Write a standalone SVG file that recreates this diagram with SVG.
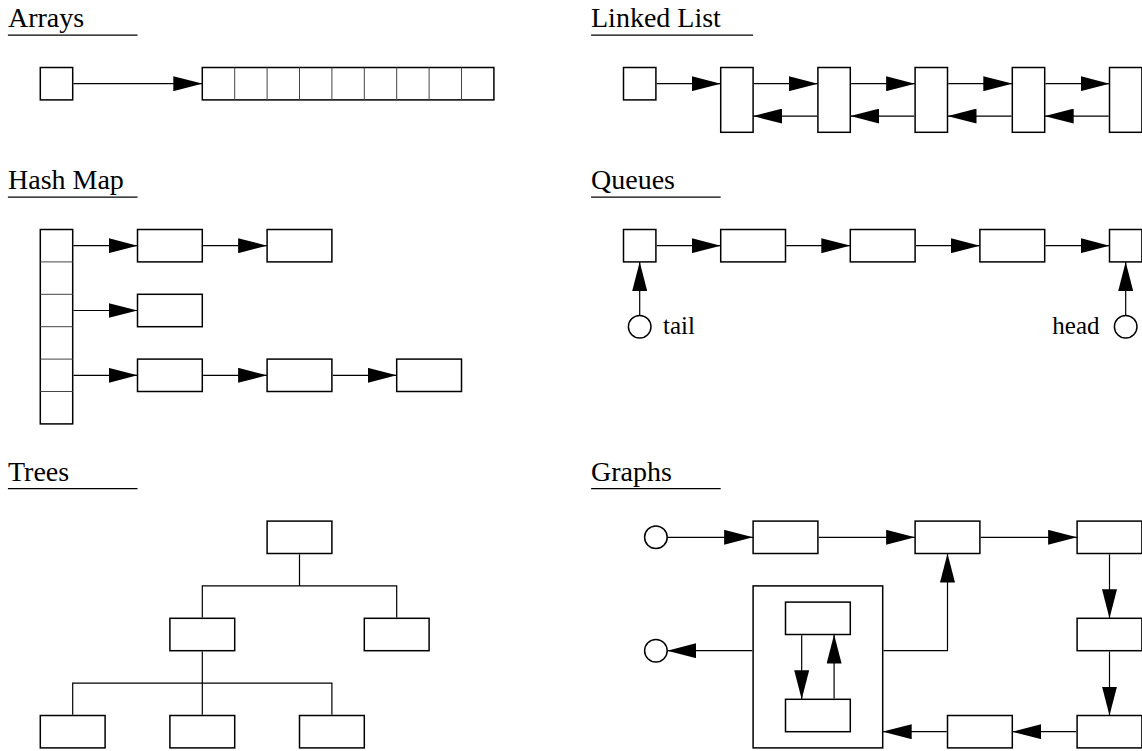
<svg xmlns="http://www.w3.org/2000/svg" width="1142" height="751" viewBox="0 0 1142 751">
<style>
.b{fill:#fff;stroke:#000;stroke-width:1.5}
.f{fill:none;stroke:#000;stroke-width:1.5}
.d{stroke:#444;stroke-width:1}
.c{fill:none;stroke:#000;stroke-width:1.2}
.a{marker-end:url(#ah)}
.t{font-family:"Liberation Serif","Times New Roman",serif;font-size:28px;fill:#000}
.l{font-family:"Liberation Serif","Times New Roman",serif;font-size:25px;fill:#000}
.u{stroke:#000;stroke-width:1.3}
.o{fill:#fff;stroke:#000;stroke-width:1.5}
</style>
<defs>
<marker id="ah" markerUnits="userSpaceOnUse" markerWidth="29" markerHeight="15" refX="29" refY="7.5" orient="auto" viewBox="0 0 29 15">
<path d="M0,0 L29,7.5 L0,15 z" fill="#000"/>
</marker>
</defs>

<g id="titles">
<text class="t" x="8" y="27">Arrays</text>
<line class="u" x1="7.9" y1="35.1" x2="137.5" y2="35.1"/>
<text class="t" x="591" y="27">Linked List</text>
<line class="u" x1="591.1" y1="35.1" x2="753.1" y2="35.1"/>
<text class="t" x="8" y="189">Hash Map</text>
<line class="u" x1="7.9" y1="197.1" x2="137.5" y2="197.1"/>
<text class="t" x="591" y="189">Queues</text>
<line class="u" x1="591.1" y1="197.1" x2="720.7" y2="197.1"/>
<text class="t" x="8" y="480.7">Trees</text>
<line class="u" x1="7.9" y1="488.7" x2="137.5" y2="488.7"/>
<text class="t" x="591" y="480.7">Graphs</text>
<line class="u" x1="591.1" y1="488.7" x2="720.7" y2="488.7"/>
</g>

<!-- Arrays -->
<g id="arr-ptr"><rect class="b" x="40.3" y="67.5" width="32.4" height="32.4"/></g>
<g id="arr-array">
<rect class="b" x="202.3" y="67.5" width="291.6" height="32.4"/>
<path class="d" d="M234.7,67.5V99.9M267.1,67.5V99.9M299.5,67.5V99.9M331.9,67.5V99.9M364.3,67.5V99.9M396.7,67.5V99.9M429.1,67.5V99.9M461.5,67.5V99.9"/>
</g>

<!-- Linked list -->
<g id="ll-head"><rect class="b" x="623.5" y="67.5" width="32.4" height="32.4"/></g>
<g id="ll-n1"><rect class="b" x="720.7" y="67.5" width="32.4" height="64.8"/></g>
<g id="ll-n2"><rect class="b" x="817.9" y="67.5" width="32.4" height="64.8"/></g>
<g id="ll-n3"><rect class="b" x="915.1" y="67.5" width="32.4" height="64.8"/></g>
<g id="ll-n4"><rect class="b" x="1012.3" y="67.5" width="32.4" height="64.8"/></g>
<g id="ll-n5"><rect class="b" x="1109.5" y="67.5" width="32.4" height="64.8"/></g>

<!-- Hash map -->
<g id="hm-table">
<rect class="b" x="40.3" y="229.5" width="32.4" height="194.4"/>
<path class="d" d="M40.3,261.9H72.7M40.3,294.3H72.7M40.3,326.7H72.7M40.3,359.1H72.7M40.3,391.5H72.7"/>
</g>
<g id="hm-a1"><rect class="b" x="137.5" y="229.5" width="64.8" height="32.4"/></g>
<g id="hm-a2"><rect class="b" x="267.1" y="229.5" width="64.8" height="32.4"/></g>
<g id="hm-b1"><rect class="b" x="137.5" y="294.3" width="64.8" height="32.4"/></g>
<g id="hm-c1"><rect class="b" x="137.5" y="359.1" width="64.8" height="32.4"/></g>
<g id="hm-c2"><rect class="b" x="267.1" y="359.1" width="64.8" height="32.4"/></g>
<g id="hm-c3"><rect class="b" x="396.7" y="359.1" width="64.8" height="32.4"/></g>

<!-- Queues -->
<g id="q-tail"><rect class="b" x="623.5" y="229.5" width="32.4" height="32.4"/></g>
<g id="q-n1"><rect class="b" x="720.7" y="229.5" width="64.8" height="32.4"/></g>
<g id="q-n2"><rect class="b" x="850.3" y="229.5" width="64.8" height="32.4"/></g>
<g id="q-n3"><rect class="b" x="979.9" y="229.5" width="64.8" height="32.4"/></g>
<g id="q-head"><rect class="b" x="1109.5" y="229.5" width="32.4" height="32.4"/></g>
<g id="q-tail-ref"><circle class="o" cx="639.7" cy="326.7" r="11.3"/><text class="l" x="663" y="333.5">tail</text></g>
<g id="q-head-ref"><circle class="o" cx="1125.7" cy="326.7" r="11.3"/><text class="l" x="1099.5" y="333.5" text-anchor="end">head</text></g>

<!-- Trees -->
<g id="t-root"><rect class="b" x="267.1" y="521.1" width="64.8" height="32.4"/></g>
<g id="t-l"><rect class="b" x="169.9" y="618.3" width="64.8" height="32.4"/></g>
<g id="t-r"><rect class="b" x="364.3" y="618.3" width="64.8" height="32.4"/></g>
<g id="t-ll"><rect class="b" x="40.3" y="715.5" width="64.8" height="32.4"/></g>
<g id="t-lm"><rect class="b" x="169.9" y="715.5" width="64.8" height="32.4"/></g>
<g id="t-lr"><rect class="b" x="299.5" y="715.5" width="64.8" height="32.4"/></g>

<!-- Graphs -->
<g id="g-in"><circle class="o" cx="655.9" cy="537.3" r="11.3"/></g>
<g id="g-out"><circle class="o" cx="655.9" cy="650.7" r="11.3"/></g>
<g id="g-n1"><rect class="b" x="753.1" y="521.1" width="64.8" height="32.4"/></g>
<g id="g-n2"><rect class="b" x="915.1" y="521.1" width="64.8" height="32.4"/></g>
<g id="g-n3"><rect class="b" x="1077.1" y="521.1" width="64.8" height="32.4"/></g>
<g id="g-n4"><rect class="b" x="1077.1" y="618.3" width="64.8" height="32.4"/></g>
<g id="g-n5"><rect class="b" x="1077.1" y="715.5" width="64.8" height="32.4"/></g>
<g id="g-n6"><rect class="b" x="947.5" y="715.5" width="64.8" height="32.4"/></g>
<g id="g-group"><rect class="f" x="753.1" y="585.9" width="129.6" height="162"/></g>
<g id="g-inner1"><rect class="b" x="785.5" y="602.1" width="64.8" height="32.4"/></g>
<g id="g-inner2"><rect class="b" x="785.5" y="699.3" width="64.8" height="32.4"/></g>

<g id="connectors">
<!-- arrays -->
<line class="c a" x1="73.5" y1="83.7" x2="202.3" y2="83.7"/>
<!-- linked list -->
<line class="c a" x1="656.7" y1="83.7" x2="720.7" y2="83.7"/>
<line class="c a" x1="753.9" y1="83.7" x2="817.9" y2="83.7"/>
<line class="c a" x1="851.1" y1="83.7" x2="915.1" y2="83.7"/>
<line class="c a" x1="948.3" y1="83.7" x2="1012.3" y2="83.7"/>
<line class="c a" x1="1045.5" y1="83.7" x2="1109.5" y2="83.7"/>
<line class="c a" x1="817.1" y1="116.1" x2="753.1" y2="116.1"/>
<line class="c a" x1="914.3" y1="116.1" x2="850.3" y2="116.1"/>
<line class="c a" x1="1011.5" y1="116.1" x2="947.5" y2="116.1"/>
<line class="c a" x1="1108.7" y1="116.1" x2="1044.7" y2="116.1"/>
<!-- hash map -->
<line class="c a" x1="73.5" y1="245.7" x2="137.5" y2="245.7"/>
<line class="c a" x1="203.1" y1="245.7" x2="267.1" y2="245.7"/>
<line class="c a" x1="73.5" y1="310.5" x2="137.5" y2="310.5"/>
<line class="c a" x1="73.5" y1="375.3" x2="137.5" y2="375.3"/>
<line class="c a" x1="203.1" y1="375.3" x2="267.1" y2="375.3"/>
<line class="c a" x1="332.7" y1="375.3" x2="396.7" y2="375.3"/>
<!-- queues -->
<line class="c a" x1="656.7" y1="245.7" x2="720.7" y2="245.7"/>
<line class="c a" x1="786.3" y1="245.7" x2="850.3" y2="245.7"/>
<line class="c a" x1="915.9" y1="245.7" x2="979.9" y2="245.7"/>
<line class="c a" x1="1045.5" y1="245.7" x2="1109.5" y2="245.7"/>
<line class="c a" x1="639.7" y1="315.4" x2="639.7" y2="261.9"/>
<line class="c a" x1="1125.7" y1="315.4" x2="1125.7" y2="261.9"/>
<!-- trees -->
<path class="c" d="M299.5,554.3 V585.9 M202.3,617.5 V585.9 H396.7 V617.5"/>
<path class="c" d="M202.3,651.5 V714.7 M72.7,714.7 V683.1 H331.9 V714.7"/>
<!-- graphs -->
<line class="c a" x1="667.2" y1="537.3" x2="753.1" y2="537.3"/>
<line class="c a" x1="818.7" y1="537.3" x2="915.1" y2="537.3"/>
<line class="c a" x1="980.7" y1="537.3" x2="1077.1" y2="537.3"/>
<line class="c a" x1="1109.5" y1="554.3" x2="1109.5" y2="618.3"/>
<line class="c a" x1="1109.5" y1="651.5" x2="1109.5" y2="715.5"/>
<line class="c a" x1="1076.3" y1="731.7" x2="1012.3" y2="731.7"/>
<line class="c a" x1="946.7" y1="731.7" x2="882.7" y2="731.7"/>
<line class="c a" x1="752.3" y1="650.7" x2="667.2" y2="650.7"/>
<path class="c a" d="M883.5,650.7 H947.5 V553.5"/>
<line class="c a" x1="801.7" y1="635.3" x2="801.7" y2="699.3"/>
<line class="c a" x1="834.1" y1="698.5" x2="834.1" y2="634.5"/>
</g>
</svg>
